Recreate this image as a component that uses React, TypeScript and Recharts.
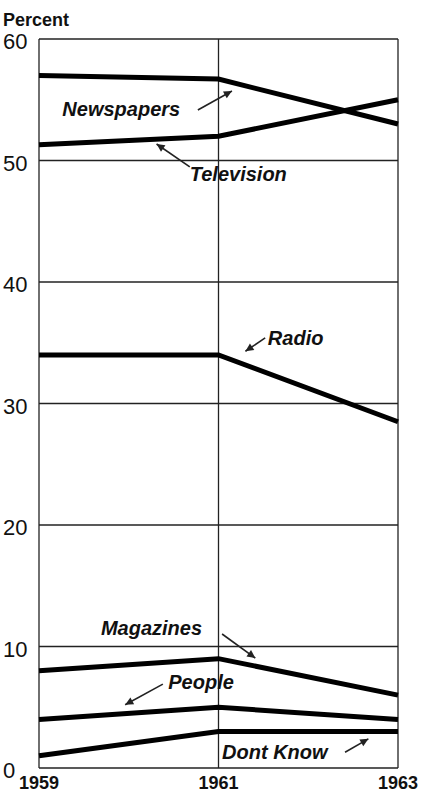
import { LineChart, Line, CartesianGrid, XAxis, YAxis, ReferenceLine } from "recharts";

const years = [1959, 1961, 1963];
const newspapers = [57, 56.7, 53];
const television = [51.3, 52, 55];
const radio = [34, 34, 28.5];
const magazines = [8, 9, 6];
const people = [4, 5, 4];
const dontKnow = [1, 3, 3];
const yTicks = [0, 10, 20, 30, 40, 50, 60];

const data = years.map((year, i) => ({
  year,
  newspapers: newspapers[i],
  television: television[i],
  radio: radio[i],
  magazines: magazines[i],
  people: people[i],
  dontKnow: dontKnow[i],
}));

// series annotations, positions in data units
const labels = [
  { text: "Newspapers", x: 1959.26, y: 54.2 },
  { text: "Television", x: 1960.68, y: 48.9 },
  { text: "Radio", x: 1961.55, y: 35.4 },
  { text: "Magazines", x: 1959.69, y: 11.5 },
  { text: "People", x: 1960.44, y: 7.1 },
  { text: "Dont Know", x: 1961.04, y: 1.3 },
];

const arrows = [
  { from: [1960.77, 54.16], to: [1961.15, 55.72] },
  { from: [1960.68, 49.47], to: [1960.31, 51.36] },
  { from: [1961.52, 35.4], to: [1961.3, 34.3] },
  { from: [1961.04, 11.03], to: [1961.41, 9.05] },
  { from: [1960.38, 6.9], to: [1959.96, 5.2] },
  { from: [1962.41, 1.3], to: [1962.67, 2.4] },
];

const series = ["newspapers", "television", "radio", "magazines", "people", "dontKnow"];

const font = "'Liberation Sans', Arial, sans-serif";

const LabelShape = (text: string) => (props: any) => (
  <text
    x={props.x1}
    y={props.y1}
    dy="0.35em"
    fontFamily={font}
    fontStyle="italic"
    fontWeight="bold"
    fontSize={20}
    fill="#111"
  >
    {text}
  </text>
);

const ArrowShape = (props: any) => {
  const { x1, y1, x2, y2 } = props;
  const ang = Math.atan2(y2 - y1, x2 - x1);
  const len = 9;
  const spread = 0.45;
  const ax = x2 - len * Math.cos(ang - spread);
  const ay = y2 - len * Math.sin(ang - spread);
  const bx = x2 - len * Math.cos(ang + spread);
  const by = y2 - len * Math.sin(ang + spread);
  return (
    <g>
      <line x1={x1} y1={y1} x2={x2} y2={y2} stroke="#222" strokeWidth={1.6} />
      <polygon points={`${x2},${y2} ${ax},${ay} ${bx},${by}`} fill="#222" />
    </g>
  );
};

const YTick = ({ y, payload }: any) => (
  <text x={3} y={y} dy={10} fontFamily={font} fontSize={22} fill="#111">
    {payload.value}
  </text>
);

const XTick = ({ x, y, payload }: any) => (
  <text x={x} y={y + 19} textAnchor="middle" fontFamily={font} fontWeight="bold" fontSize={18} fill="#111">
    {payload.value}
  </text>
);

export default function App() {
  return (
    <div style={{ position: "absolute", left: 0, top: 0, width: 421, height: 794, background: "#fff" }}>
      <div
        style={{
          position: "absolute",
          left: 3,
          top: 11,
          fontFamily: font,
          fontWeight: "bold",
          fontSize: 18,
          lineHeight: "18px",
          color: "#111",
        }}
      >
        Percent
      </div>
      <LineChart width={421} height={794} data={data} margin={{ top: 39, right: 23, left: 0, bottom: 0 }}>
        <CartesianGrid stroke="#222" strokeWidth={1.3} />
        <XAxis
          dataKey="year"
          type="number"
          domain={[1959, 1963]}
          ticks={years}
          axisLine={false}
          tickLine={false}
          tickSize={0}
          height={26}
          tick={<XTick />}
        />
        <YAxis
          type="number"
          domain={[0, 60]}
          ticks={yTicks}
          axisLine={false}
          tickLine={false}
          width={39}
          tick={<YTick />}
        />
        {series.map((key) => (
          <Line
            key={key}
            type="linear"
            dataKey={key}
            stroke="#000"
            strokeWidth={5}
            dot={false}
            activeDot={false}
            isAnimationActive={false}
          />
        ))}
        {labels.map((l) => (
          <ReferenceLine
            key={l.text}
            segment={[
              { x: l.x, y: l.y },
              { x: l.x, y: l.y },
            ]}
            shape={LabelShape(l.text)}
            ifOverflow="visible"
          />
        ))}
        {arrows.map((a, i) => (
          <ReferenceLine
            key={"arrow" + i}
            segment={[
              { x: a.from[0], y: a.from[1] },
              { x: a.to[0], y: a.to[1] },
            ]}
            shape={ArrowShape}
            ifOverflow="visible"
          />
        ))}
      </LineChart>
    </div>
  );
}
